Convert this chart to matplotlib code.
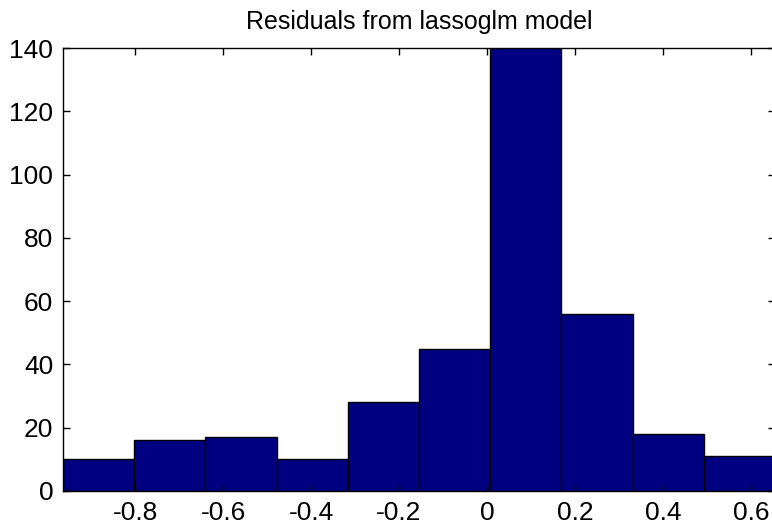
import numpy as np
import matplotlib
matplotlib.use("Agg")
import matplotlib.pyplot as plt

# histogram of residuals, 10 equal bins between min and max residual
resid_min = -0.964
resid_max = 0.655
counts = [10, 16, 17, 10, 28, 45, 140, 56, 18, 11]
xticks = [-0.8, -0.6, -0.4, -0.2, 0, 0.2, 0.4, 0.6]
xticklabels = ["-0.8", "-0.6", "-0.4", "-0.2", "0", "0.2", "0.4", "0.6"]
yticks = [0, 20, 40, 60, 80, 100, 120, 140]

plt.rcParams['font.family'] = ['Liberation Sans', 'DejaVu Sans']

fig = plt.figure(figsize=(7.72, 5.26), dpi=100)
ax = fig.add_axes([63 / 772, 35 / 526, 712 / 772, 443 / 526])

edges = np.linspace(resid_min, resid_max, len(counts) + 1)
ax.bar(edges[:-1], counts, width=np.diff(edges), align='edge',
       color='#000080', edgecolor='black', linewidth=1.0)

ax.set_xlim(resid_min, resid_max)
ax.set_ylim(0, 140)
ax.set_xticks(xticks)
ax.set_xticklabels(xticklabels)
ax.set_yticks(yticks)
ax.tick_params(direction='in', length=5, width=1, top=True, right=True,
               labelsize=19, pad=7)
for s in ax.spines.values():
    s.set_linewidth(1)

ax.set_title("Residuals from lassoglm model", fontsize=18, pad=14)

fig.savefig("out.png", dpi=100)
